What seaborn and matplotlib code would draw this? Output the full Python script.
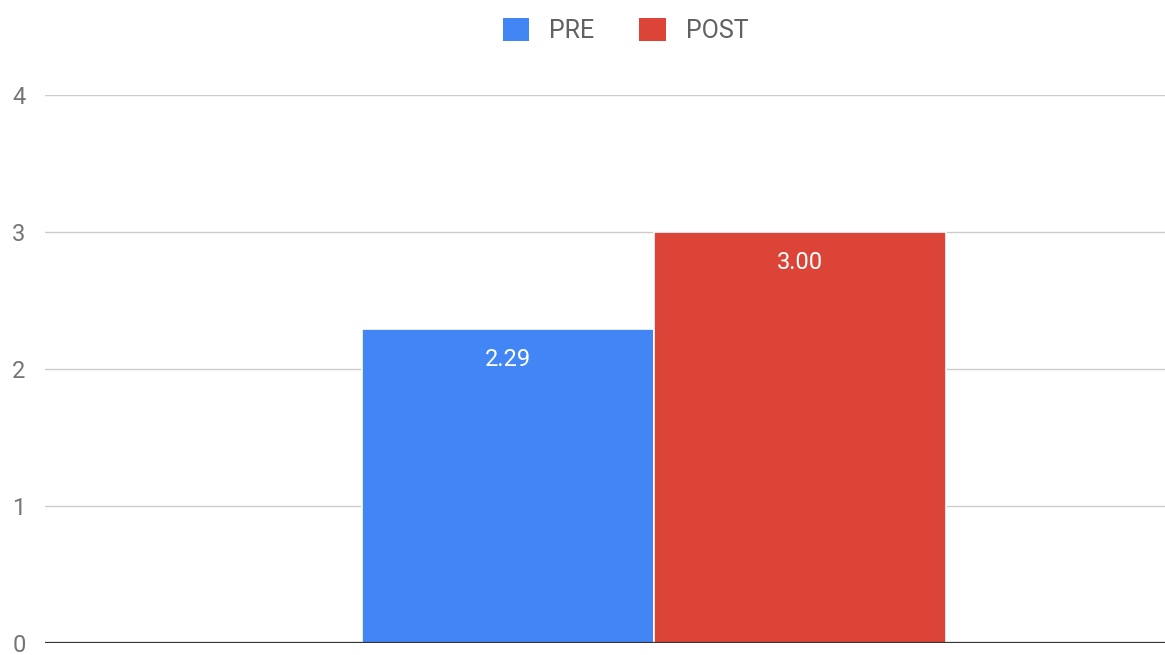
import pandas as pd
import matplotlib.pyplot as plt
import seaborn as sns

# chart values
series = ['PRE', 'POST']
values = [2.29, 3.00]
group = ['', '']
colors = ['#4285F4', '#DB4437']

df = pd.DataFrame({'group': group, 'series': series, 'value': values})

sns.set_theme(style='white')
plt.rcParams['font.family'] = ['Roboto', 'DejaVu Sans']

fig = plt.figure(figsize=(11.65, 6.55), dpi=100)
ax = fig.add_axes([0.0386, 0.0183, 0.9614, 0.8366])

sns.barplot(data=df, x='group', y='value', hue='series', palette=colors,
            saturation=1, width=0.8, edgecolor='white', linewidth=1.2,
            ax=ax, legend=False)

for c in ax.containers:
    ax.bar_label(c, fmt='%.2f', padding=-30, color='white', fontsize=17)

ax.set_ylim(0, 4)
ax.set_yticks([0, 1, 2, 3, 4])
ax.set_xlim(-0.835, 0.701)
ax.set_xticks([])
ax.set_xlabel('')
ax.set_ylabel('')
ax.grid(axis='y', color='#cccccc', linewidth=1)
ax.set_axisbelow(True)
for s in ax.spines.values():
    s.set_visible(False)
ax.axhline(0, color='#333333', linewidth=1.6, zorder=5)
ax.tick_params(axis='y', length=0, pad=14, labelsize=17, labelcolor='#757575')

handles = [plt.Rectangle((0, 0), 1, 1, facecolor=col, edgecolor='none') for col in colors]
leg = fig.legend(handles, series, loc='center', bbox_to_anchor=(0.537, 0.954),
                 ncol=2, frameon=False, fontsize=18, handlelength=1.05,
                 handleheight=1.05, columnspacing=1.8, handletextpad=0.8)
for t in leg.get_texts():
    t.set_color('#616161')

fig.savefig('out.png', dpi=100)
